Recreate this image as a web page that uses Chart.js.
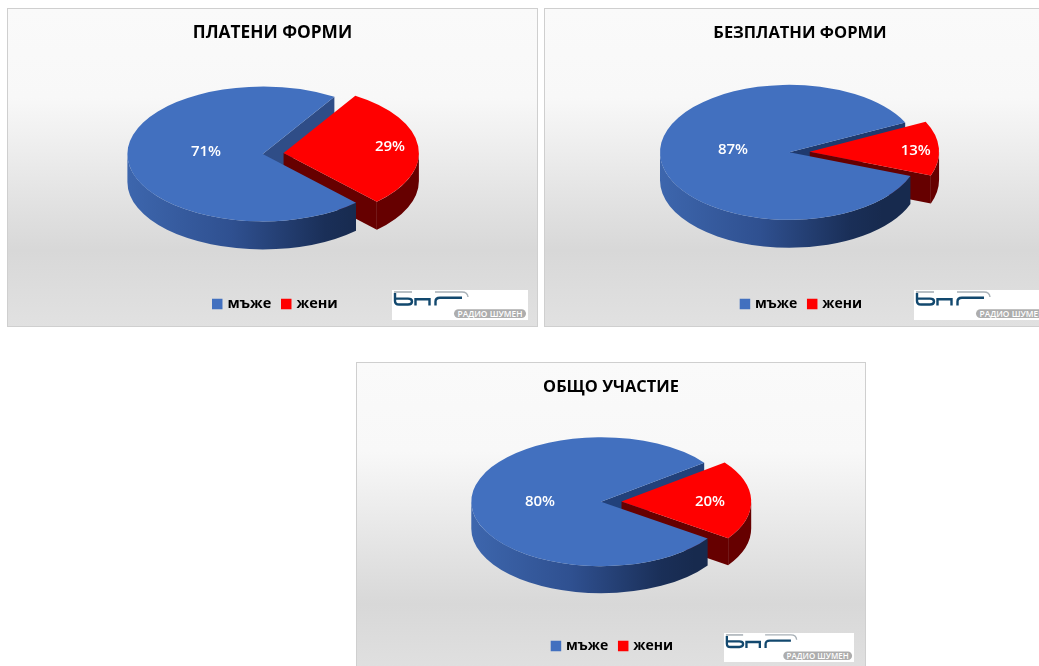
<!DOCTYPE html>
<html><head><meta charset="utf-8">
<script src="https://cdn.jsdelivr.net/npm/chart.js@4"></script>
<style>
html,body{margin:0;padding:0;background:#fff;overflow:hidden;width:1039px;height:666px}
.panel{position:absolute;box-sizing:border-box;border:1px solid #cfcfcf;
 background:linear-gradient(180deg,#fafafa 0%,#f8f8f8 28%,#d8d8d8 76%,#e1e1e1 100%);}
.panel canvas{position:absolute;left:0;top:0;display:block}
.logo{position:absolute}
</style></head><body>
<div class="panel" id="p1" style="left:7px;top:8px;width:531px;height:319px"><canvas id="c1" width="529" height="317"></canvas></div>
<div class="panel" id="p2" style="left:544px;top:8px;width:512px;height:319px"><canvas id="c2" width="510" height="317"></canvas></div>
<div class="panel" id="p3" style="left:356px;top:362px;width:510px;height:319px"><canvas id="c3" width="508" height="317"></canvas></div>
<script>
const categories = ['мъже', 'жени'];
const titles = ['ПЛАТЕНИ ФОРМИ', 'БЕЗПЛАТНИ ФОРМИ', 'ОБЩО УЧАСТИЕ'];
const paidValues = [71, 29];
const freeValues = [87, 13];
const totalValues = [80, 20];
const colors = ['#4270BF', '#FF0000'];
const font = '"Open Sans","Noto Sans",sans-serif';

const pie3d = {
  id: 'pie3d',
  afterLayout(chart, a, o) {
    const l = chart.legend, w = l.right - l.left, h = l.bottom - l.top;
    l.left = o.legendX - w / 2; l.right = l.left + w;
    l.top = o.legendY - h / 2; l.bottom = l.top + h;
  },
  beforeDatasetDraw(chart, a, o) {
    const ctx = chart.ctx, arcs = chart.getDatasetMeta(0).data, k = o.tilt, d = o.depth;
    const geo = arcs.map((arc, i) => {
      const p = arc.getProps(['startAngle', 'endAngle', 'outerRadius']);
      const mid = (p.startAngle + p.endAngle) / 2, ex = o.explode[i];
      return {arc, s: p.startAngle, e: p.endAngle, r: p.outerRadius, mid, ex,
        x: o.cx + ex * Math.cos(mid), y: o.cy + k * ex * Math.sin(mid)};
    });
    const rim = (g, fill) => {
      for (let n = -1; n < 3; n++) {
        const a1 = Math.max(g.s, 2 * Math.PI * n), a2 = Math.min(g.e, 2 * Math.PI * n + Math.PI);
        if (a2 <= a1) continue;
        ctx.beginPath();
        ctx.ellipse(g.x, g.y, g.r, g.r * k, 0, a1, a2);
        ctx.ellipse(g.x, g.y + d, g.r, g.r * k, 0, a2, a1, true);
        ctx.closePath(); ctx.fillStyle = fill; ctx.fill();
      }
    };
    const cut = (g, ang, fill) => {
      const px = g.x + g.r * Math.cos(ang), py = g.y + k * g.r * Math.sin(ang);
      ctx.beginPath(); ctx.moveTo(g.x, g.y); ctx.lineTo(px, py);
      ctx.lineTo(px, py + d); ctx.lineTo(g.x, g.y + d); ctx.closePath();
      ctx.fillStyle = fill; ctx.fill();
    };
    ctx.save();
    const [b, r] = geo;
    cut(b, b.e, o.cutColor);
    cut(r, r.e, '#660000');
    rim(r, '#660000');
    const grad = ctx.createLinearGradient(b.x - b.r, 0, b.x + b.r * 0.72, 0);
    grad.addColorStop(0, '#3D66AD');
    grad.addColorStop(0.45, '#2F5090');
    grad.addColorStop(0.85, '#1A2F58');
    grad.addColorStop(1, '#172A4E');
    rim(b, grad);
    geo.forEach(g => {
      ctx.save();
      ctx.translate(g.x, g.y); ctx.scale(1, k); ctx.translate(-g.arc.x, -g.arc.y);
      g.arc.draw(ctx);
      ctx.restore();
    });
    ctx.restore();
    return false;
  },
  afterDatasetsDraw(chart, a, o) {
    const ctx = chart.ctx, vals = chart.data.datasets[0].data;
    ctx.save();
    ctx.font = '600 15px ' + font;
    ctx.fillStyle = '#fff'; ctx.textAlign = 'center'; ctx.textBaseline = 'middle';
    vals.forEach((v, i) => ctx.fillText(v + '%', o.labels[i][0], o.labels[i][1]));
    ctx.restore();
  }
};

function make(id, title, values, rotation, radius, p) {
  new Chart(document.getElementById(id), {
    type: 'pie',
    plugins: [pie3d],
    data: {labels: categories, datasets: [{data: values, backgroundColor: colors, borderWidth: 0, radius, clip: false}]},
    options: {
      responsive: false, animation: false, rotation,
      layout: {padding: 0},
      events: [],
      plugins: {
        tooltip: {enabled: false},
        title: {display: true, text: title, color: '#000', font: {family: font, size: p.titleSize, weight: 'bold'}, padding: {top: 14, bottom: 8}},
        legend: {position: 'bottom', labels: {
          font: {family: font, size: p.legendSize, weight: 'bold'}, color: '#000', boxWidth: 6, boxHeight: 6, padding: 12,
          generateLabels: () => categories.map((text, i) => ({text, fillStyle: colors[i], strokeStyle: colors[i], lineWidth: 4.5, hidden: false, index: i}))
        }},
        pie3d: p
      }
    }
  });
}

make('c1', titles[0], paidValues, 136.4, 135.3, {cx: 254.7, cy: 145, tilt: .498, depth: 28, explode: [0, 21], cutColor: '#2F4D87',
  titleSize: 17.3, legendSize: 14.5, legendX: 268, legendY: 294, labels: [[198, 143], [382, 138]]});
make('c2', titles[1], freeValues, 110.5, 129.3, {cx: 244.3, cy: 143.3, tilt: .522, depth: 28, explode: [0, 20.5], cutColor: '#1F3A6E',
  titleSize: 16.5, legendSize: 14, legendX: 257, legendY: 294, labels: [[188, 141], [370.7, 142]]});
make('c3', titles[2], totalValues, 124.7, 129.7, {cx: 244, cy: 138.7, tilt: .497, depth: 27, explode: [0, 20.5], cutColor: '#22417A',
  titleSize: 16.4, legendSize: 14, legendX: 256, legendY: 282, labels: [[183, 139], [353, 139]]});

function logo(left, top, w, h) {
  const ns = 'http://www.w3.org/2000/svg';
  const s = document.createElementNS(ns, 'svg');
  s.setAttribute('class', 'logo');
  s.setAttribute('width', w); s.setAttribute('height', h); s.setAttribute('viewBox', '0 0 136 30');
  s.setAttribute('preserveAspectRatio', 'none');
  s.style.left = left + 'px'; s.style.top = top + 'px';
  s.innerHTML = '<rect width="136" height="30" fill="#fff"/>' +
   '<path d="M2 2H20" stroke="#a8b0b6" stroke-width="1.6" fill="none"/>' +
   '<path d="M3 3V11Q3 14.5 7 14.5H16Q20 14.5 20 11.5Q20 8.6 16 8.6H3" stroke="#12486e" stroke-width="2.4" fill="none"/>' +
   '<path d="M23.5 15.5V9.3H37.5V15.5M43.5 15.5V11.5Q43.5 7.8 48 7.8H70" stroke="#12486e" stroke-width="2.4" fill="none"/>' +
   '<path d="M43 2H70Q75.5 2 76 7" stroke="#a8b0b6" stroke-width="1.4" fill="none"/>' +
   '<rect x="62" y="19.2" width="72" height="8.8" rx="4.4" fill="#adadad"/>' +
   '<text x="98" y="26.9" text-anchor="middle" font-family="\'Open Sans\',sans-serif" font-weight="600" font-size="8.6" fill="#fff" textLength="65" lengthAdjust="spacingAndGlyphs">РАДИО ШУМЕН</text>';
  document.body.appendChild(s);
}
logo(392, 290, 136, 30);
logo(914, 290, 136, 30);
logo(724, 633, 130, 29);
</script>
</body></html>
